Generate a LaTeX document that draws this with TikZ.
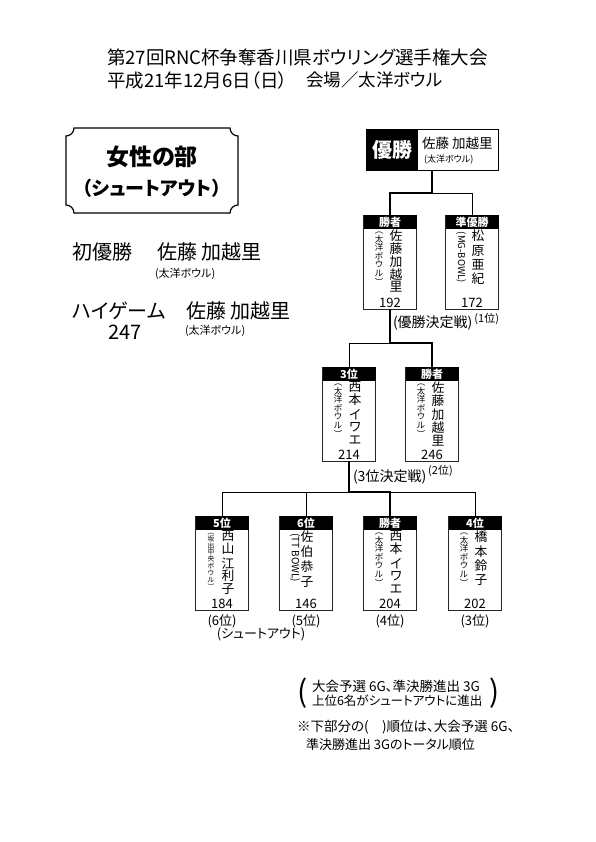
\documentclass[tikz,border=0pt]{standalone}
\usepackage{fontspec}
\setmainfont{Noto Sans CJK JP}[RawFeature=+palt]
\usepackage{tikz}
\usetikzlibrary{positioning}

\newcommand{\fsz}[1]{\fontsize{#1}{#1}\selectfont}

% one card of the ladder: name, centre, header, club options, club, player, score, player shift
\newcommand{\playercard}[8]{%
  \node[card] (#1) at (#2) {};
  \node[hdr, anchor=north] (#1h) at (#1.north) {#3};
  \node[club, anchor=north, #4] (#1c) at ([xshift=-11pt, yshift=-17pt]#1.north) {#5};
  \node[pname, anchor=north] (#1n) at ([xshift=#8, yshift=-15pt]#1.north) {#6};
  \node[score, anchor=south] (#1s) at ([yshift=1.5pt]#1.south) {#7};
}

\begin{document}
\begin{tikzpicture}[x=1pt, y=-1pt,
  every node/.style={inner sep=0pt, outer sep=0pt},
  card/.style={draw=black!85, line width=0.6pt, minimum width=53pt, minimum height=94pt},
  hdr/.style={fill=black, text=white, minimum width=53pt, minimum height=14pt,
    font=\fsz{11}\bfseries},
  club/.style={align=center, font=\fontsize{8.5}{8.6}\selectfont},
  pname/.style={align=center, font=\fsz{12.8}},
  score/.style={font=\fsz{13}},
  rank/.style={font=\fsz{13}},
  win/.style={line width=2.5pt},
  lose/.style={line width=0.8pt},
]
  \useasboundingbox[fill=white] (0,0) rectangle (595,842);

  % title
  \node[anchor=west, font=\fsz{18.5}] (title) at (107,58)
    {第27回RNC杯争奪香川県ボウリング選手権大会};
  \node[anchor=west, font=\fsz{18.5}] (date) at (107,80)
    {平成21年12月6日（日）};
  \node[anchor=west, font=\fsz{17.5}] (venue) at (306,80)
    {会場／太洋ボウル};

  % plaque
  \draw[line width=1.2pt] (74,128) -- (230,128)
    .. controls (230,132.4) and (233.6,136) .. (238,136) -- (238,205)
    .. controls (233.6,205) and (230,208.6) .. (230,213) -- (74,213)
    .. controls (74,208.6) and (70.4,205) .. (66,205) -- (66,136)
    .. controls (70.4,136) and (74,132.4) .. (74,128) -- cycle;
  \node[font=\fsz{23}\bfseries] (div) at (152,157) {女性の部};
  \node[font=\fsz{19}\bfseries] (divsub) at (152,188) {（シュートアウト）};

  % summary
  \node[anchor=west, font=\fsz{20}] (firstlbl) at (72,252) {初優勝};
  \node[anchor=west, font=\fsz{20}] (firstname) at (157,252) {佐藤 加越里};
  \node[anchor=west, font=\fsz{11}] (firstclub) at (155,274) {(太洋ボウル)};
  \node[anchor=west, font=\fsz{20}] (hglbl) at (72,311) {ハイゲーム};
  \node[anchor=west, font=\fsz{20}] (hgname) at (186,311) {佐藤 加越里};
  \node[font=\fsz{20}] (hgscore) at (125,332) {247};
  \node[anchor=west, font=\fsz{11}] (hgclub) at (185,331) {(太洋ボウル)};

  % champion
  \node[draw, line width=0.8pt, minimum width=132pt, minimum height=41pt] (champ) at (432,149.5) {};
  \node[fill=black, text=white, anchor=north west, minimum width=52pt, minimum height=41pt,
    font=\fsz{20}\bfseries] (champl) at (champ.north west) {優勝};
  \node[anchor=west, font=\fsz{13.5}] (champn) at (422,143) {佐藤 加越里};
  \node[anchor=west, font=\fsz{9}] (champc) at (424,160) {(太洋ボウル)};

  % cards
  \playercard{sf}{390,262}{勝者}{}{︵\\太\\洋\\ボ\\ウ\\ル\\︶}{佐\\藤\\加\\越\\里}{192}{6pt}
  \playercard{ru}{472,262}{準優勝}{rotate=-90, anchor=west, font=\fsz{9.5}}{(MG-BOWL)}{松\\[1.5pt]原\\[1.5pt]亜\\[1.5pt]紀}{172}{6pt}
  \playercard{tp}{349,414}{3位}{}{︵\\太\\洋\\ボ\\ウ\\ル\\︶}{西\\本\\[1.5pt]イ\\ワ\\エ}{214}{6pt}
  \playercard{sc}{432,414}{勝者}{}{︵\\太\\洋\\ボ\\ウ\\ル\\︶}{佐\\藤\\[1.5pt]加\\越\\里}{246}{6pt}
  \playercard{fa}{222,563}{5位}{font=\fontsize{6.8}{6.9}\selectfont}{︵\\坂\\出\\中\\央\\ボ\\ウ\\ル\\︶}{西\\山\\[1.5pt]江\\利\\子}{184}{6pt}
  \playercard{fb}{306,563}{6位}{rotate=-90, anchor=west, font=\fsz{10}}{(TT BOWL)}{佐\\[2pt]伯\\[2pt]恭\\[2pt]子}{146}{1pt}
  \playercard{fc}{390,563}{勝者}{}{︵\\太\\洋\\ボ\\ウ\\ル\\︶}{西\\本\\[1.5pt]イ\\ワ\\エ}{204}{6pt}
  \playercard{fd}{475,563}{4位}{}{︵\\太\\洋\\ボ\\ウ\\ル\\︶}{橋\\[1.5pt]本\\[1.5pt]鈴\\[1.5pt]子}{202}{6pt}

  % ladder lines
  \coordinate (ja) at (432,193);
  \coordinate (jb) at (390,343);
  \coordinate (jc) at (349,492);
  \draw[lose] (ja) -| (ru.north);
  \draw[lose] (jb) -| (tp.north);
  \draw[lose] (jc) -| (fa.north);
  \draw[lose] (jc) -| (fb.north);
  \draw[lose] (jc) -| (fd.north);
  \draw[win] (champ.south) -- (ja) -| (sf.north);
  \draw[win] (sf.south) -- (jb) -| (sc.north);
  \draw[win] (tp.south) -- (jc) -| (fc.north);

  % match labels
  \node[anchor=west, font=\fsz{14}] (finlbl) at (393,323) {(優勝決定戦)};
  \node[font=\fsz{11}, right=2pt of finlbl, yshift=4pt] (firstpl) {(1位)};
  \node[anchor=west, font=\fsz{14}] (thirdlbl) at (353,477) {(3位決定戦)};
  \node[font=\fsz{11}, right=2pt of thirdlbl, yshift=6pt] (secondpl) {(2位)};
  \node[rank, below=5pt of fa] (fap) {(6位)};
  \node[rank, below=5pt of fb] (fbp) {(5位)};
  \node[rank, below=5pt of fc] (fcp) {(4位)};
  \node[rank, below=5pt of fd] (fdp) {(3位)};
  \node[rank] (shoot) at (261,634) {(シュートアウト)};

  % notes
  \node[font=\fsz{30}] (lgl) at (303,693) {(};
  \node[anchor=west, font=\fsz{13.5}] (lg1) at (312,686) {大会予選 6G、準決勝進出 3G};
  \node[anchor=west, font=\fsz{12.5}] (lg2) at (312,701) {上位6名がシュートアウトに進出};
  \node[font=\fsz{30}] (lgr) at (495,693) {)};
  \node[anchor=west, font=\fsz{13.5}] (nt1) at (297,727) {※下部分の(　)順位は、大会予選 6G、};
  \node[anchor=west, font=\fsz{13}] (nt2) at (306,745) {準決勝進出 3Gのトータル順位};
\end{tikzpicture}
\end{document}
